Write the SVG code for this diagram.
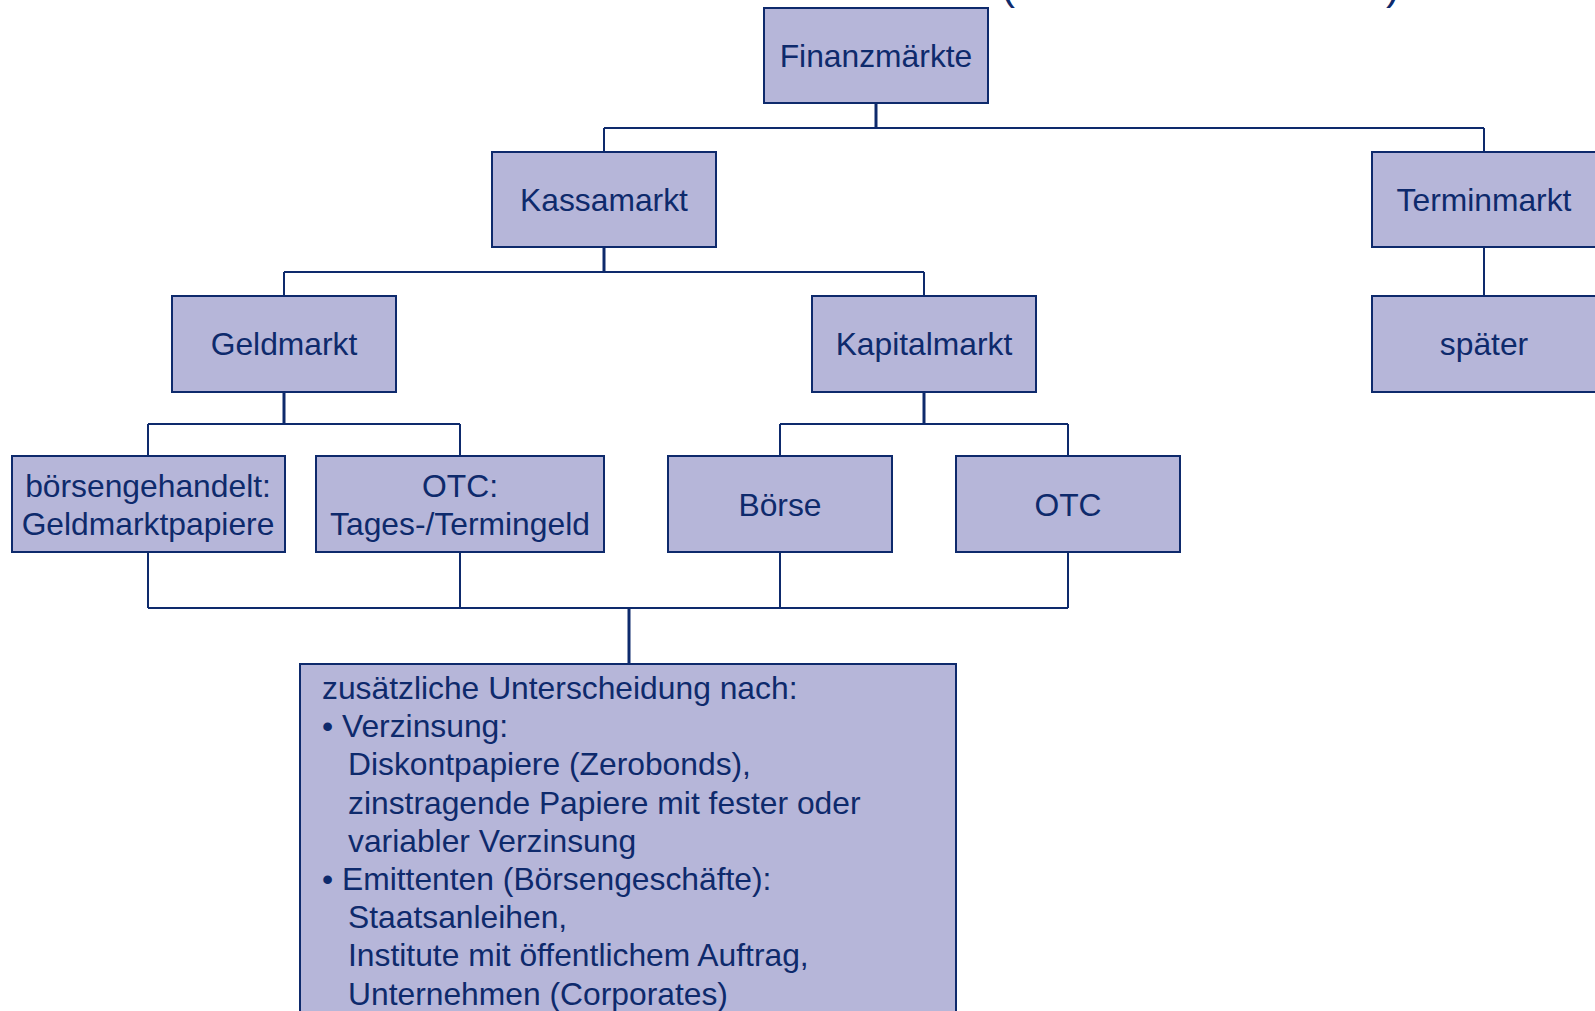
<svg xmlns="http://www.w3.org/2000/svg" width="1595" height="1011" viewBox="0 0 1595 1011">
<style>
.box{fill:#B6B6D9;stroke:#0E2A6C;stroke-width:2}
.t{font-family:"Liberation Sans",Arial,sans-serif;font-size:31.8px;fill:#0E2A6C}
.c{text-anchor:middle}
.ln{fill:none;stroke:#0E2A6C;stroke-width:2}
.stem{fill:none;stroke:#0E2A6C;stroke-width:3}
</style>
<rect width="1595" height="1011" fill="#FFFFFF"/>
<g id="title-fragment">
<text x="1001" y="-1" font-family="Liberation Sans,Arial,sans-serif" font-size="42" fill="#0E2A6C">(</text>
<text x="1386" y="-1" font-family="Liberation Sans,Arial,sans-serif" font-size="42" fill="#0E2A6C">)</text>
</g>
<g id="connectors">
<path class="stem" d="M876 103V128"/>
<path class="ln" d="M604 128H1484M604 128V152M1484 128V152"/>
<path class="stem" d="M604 247V272"/>
<path class="ln" d="M284 272H924M284 272V296M924 272V296"/>
<path class="ln" d="M1484 247V296"/>
<path class="stem" d="M284 392V424"/>
<path class="ln" d="M148 424H460M148 424V456M460 424V456"/>
<path class="stem" d="M924 392V424"/>
<path class="ln" d="M780 424H1068M780 424V456M1068 424V456"/>
<path class="ln" d="M148 552V608M460 552V608M780 552V608M1068 552V608M148 608H1068"/>
<path class="stem" d="M629 608V664"/>
</g>
<g id="n-finanzmaerkte"><rect class="box" x="764" y="8" width="224" height="95"/><text class="t c" x="876" y="67">Finanzmärkte</text></g>
<g id="n-kassamarkt"><rect class="box" x="492" y="152" width="224" height="95"/><text class="t c" x="604" y="211">Kassamarkt</text></g>
<g id="n-terminmarkt"><rect class="box" x="1372" y="152" width="224" height="95"/><text class="t c" x="1484" y="211">Terminmarkt</text></g>
<g id="n-geldmarkt"><rect class="box" x="172" y="296" width="224" height="96"/><text class="t c" x="284" y="355">Geldmarkt</text></g>
<g id="n-kapitalmarkt"><rect class="box" x="812" y="296" width="224" height="96"/><text class="t c" x="924" y="355">Kapitalmarkt</text></g>
<g id="n-spaeter"><rect class="box" x="1372" y="296" width="224" height="96"/><text class="t c" x="1484" y="355">später</text></g>
<g id="n-boersengehandelt"><rect class="box" x="12" y="456" width="273" height="96"/><text class="t c" x="148" y="497">börsengehandelt:</text><text class="t c" x="148" y="535">Geldmarktpapiere</text></g>
<g id="n-otc-geld"><rect class="box" x="316" y="456" width="288" height="96"/><text class="t c" x="460" y="497">OTC:</text><text class="t c" x="460" y="535">Tages-/Termingeld</text></g>
<g id="n-boerse"><rect class="box" x="668" y="456" width="224" height="96"/><text class="t c" x="780" y="516">Börse</text></g>
<g id="n-otc-kapital"><rect class="box" x="956" y="456" width="224" height="96"/><text class="t c" x="1068" y="516">OTC</text></g>
<g id="n-unterscheidung"><rect class="box" x="300" y="664" width="656" height="360"/>
<text class="t" x="322" y="699">zusätzliche Unterscheidung nach:</text>
<text class="t" x="322" y="737.2">• Verzinsung:</text>
<text class="t" x="348" y="775.4">Diskontpapiere (Zerobonds),</text>
<text class="t" x="348" y="813.6">zinstragende Papiere mit fester oder</text>
<text class="t" x="348" y="851.8">variabler Verzinsung</text>
<text class="t" x="322" y="890">• Emittenten (Börsengeschäfte):</text>
<text class="t" x="348" y="928.2">Staatsanleihen,</text>
<text class="t" x="348" y="966.4">Institute mit öffentlichem Auftrag,</text>
<text class="t" x="348" y="1004.6">Unternehmen (Corporates)</text>
</g>
</svg>
